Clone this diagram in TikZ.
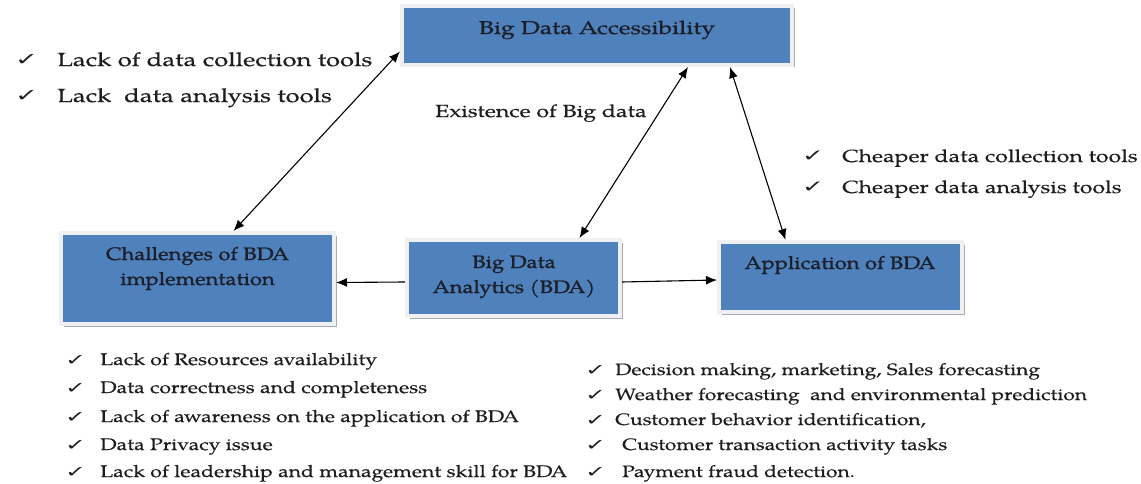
\documentclass[tikz,border=0pt]{standalone}
\usepackage{fontspec}
\setmainfont{TeX Gyre Pagella}
\newfontfamily\fTop{TeX Gyre Pagella}[FakeStretch=1.35,FakeBold=0.4]
\newfontfamily\fMid{TeX Gyre Pagella}[FakeStretch=1.32,FakeBold=0.4]
\newfontfamily\fBL{TeX Gyre Pagella}[FakeStretch=1.27,FakeBold=0.4]
\newfontfamily\fBR{TeX Gyre Pagella}[FakeStretch=1.27,FakeBold=0.4]
\newfontfamily\fBoxA{TeX Gyre Pagella}[FakeStretch=1.33,FakeBold=0.8]
\newfontfamily\fBox{TeX Gyre Pagella}[FakeStretch=1.22,FakeBold=1.2]
\newfontfamily\ckfont{DejaVu Sans}
\usetikzlibrary{arrows.meta,shadows}
\definecolor{boxblue}{HTML}{4F81BD}
\definecolor{framegray}{HTML}{EEF0F3}
\definecolor{shadowgray}{HTML}{A9ADB3}
\definecolor{txt}{HTML}{1E1E1E}
\definecolor{boxtxt}{HTML}{1C1F2A}
\newcommand{\ck}[1]{{\ckfont\fontsize{#1}{#1}\selectfont\scalebox{1.25}[0.8]{✓}}}
\begin{document}
\begin{tikzpicture}[x=1pt,y=-1pt,
  bigbox/.style={draw=framegray, line width=4pt, fill=boxblue, inner sep=0pt,
    drop shadow={shadow xshift=2.5pt, shadow yshift=-2.5pt, fill=shadowgray, opacity=1}},
  boxlabel/.style={anchor=base, align=center, text=boxtxt, inner sep=0pt},
  listline/.style={anchor=base west, text=txt, inner sep=0pt},
  conn/.style={line width=1.1pt, black, >={Latex[length=11pt,width=9pt]}},
]
\useasboundingbox (0,0) rectangle (1141,484);

% boxes
\node[bigbox, minimum width=390pt, minimum height=59pt] (acc) at (597,35.5) {};
\node[bigbox, minimum width=273pt, minimum height=91pt] (chal) at (197.5,278.5) {};
\node[bigbox, minimum width=213pt, minimum height=76pt] (bda) at (513.5,278) {};
\node[bigbox, minimum width=243pt, minimum height=70pt] (app) at (840.5,277) {};

% box labels (multi-line nodes: base = last line)
\node[boxlabel, font=\fBoxA\fontsize{18.5}{25}\selectfont] (accT) at (597,34) {Big Data Accessibility};
\node[boxlabel, font=\fBox\fontsize{18}{25}\selectfont] (chalT) at (197.5,285) {Challenges of BDA\\implementation};
\node[boxlabel, font=\fBox\fontsize{18}{25}\selectfont] (bdaT) at (514,293) {Big Data\\Analytics (BDA)};
\node[boxlabel, font=\fBox\fontsize{18}{25}\selectfont] (appT) at (840,269) {Application of BDA};

% connectors
\draw[conn, <->] ([yshift=-16pt]acc.west) -- ([xshift=36pt]chal.north);
\draw[conn, <->] ([xshift=91pt]acc.south) -- ([xshift=66pt]bda.north);
\draw[conn, <->] ([xshift=133pt]acc.south) -- ([xshift=-55pt]app.north);
\draw[conn, ->] ([yshift=-4pt]bda.west) -- ([yshift=-4pt]chal.east);
\draw[conn, ->] ([yshift=-4pt]bda.east) -- ([yshift=-3pt]app.west);

% top-left list
\node[listline, font=\fTop\fontsize{19}{19}\selectfont] (tl1) at (15,66) {\makebox[42pt][l]{\ck{22}}Lack of data collection tools};
\node[listline, font=\fTop\fontsize{19}{19}\selectfont] (tl2) at (15,102) {\makebox[42pt][l]{\ck{22}}Lack\ \ data analysis tools};

% existence label
\node[listline, font=\fMid\fontsize{17.5}{17.5}\selectfont] (ex) at (435,117) {Existence of Big data};

% right list
\node[listline, font=\fMid\fontsize{17.5}{17.5}\selectfont] (tr1) at (802,162) {\makebox[40pt][l]{\ck{21}}Cheaper data collection tools};
\node[listline, font=\fMid\fontsize{17.5}{17.5}\selectfont] (tr2) at (802,193) {\makebox[40pt][l]{\ck{21}}Cheaper data analysis tools};

% bottom-left list
\node[listline, font=\fBL\fontsize{16.7}{16.7}\selectfont] (bl1) at (65,365) {\makebox[35pt][l]{\ck{20}}Lack of Resources availability};
\node[listline, font=\fBL\fontsize{16.7}{16.7}\selectfont] (bl2) at (65,393) {\makebox[35pt][l]{\ck{20}}Data correctness and completeness};
\node[listline, font=\fBL\fontsize{16.7}{16.7}\selectfont] (bl3) at (65,422) {\makebox[35pt][l]{\ck{20}}Lack of awareness on the application of BDA};
\node[listline, font=\fBL\fontsize{16.7}{16.7}\selectfont] (bl4) at (65,450) {\makebox[35pt][l]{\ck{20}}Data Privacy issue};
\node[listline, font=\fBL\fontsize{16.7}{16.7}\selectfont] (bl5) at (65,477) {\makebox[35pt][l]{\ck{20}}Lack of leadership and management skill for BDA};

% bottom-right list
\node[listline, font=\fBR\fontsize{16.5}{16.5}\selectfont] (br1) at (585,375) {\makebox[30pt][l]{\ck{20}}Decision making, marketing, Sales forecasting};
\node[listline, font=\fBR\fontsize{16.5}{16.5}\selectfont] (br2) at (585,400) {\makebox[30pt][l]{\ck{20}}Weather forecasting\ \ and environmental prediction};
\node[listline, font=\fBR\fontsize{16.5}{16.5}\selectfont] (br3) at (585,425) {\makebox[30pt][l]{\ck{20}}Customer behavior identification,};
\node[listline, font=\fBR\fontsize{16.5}{16.5}\selectfont] (br4) at (585,450) {\makebox[37pt][l]{\ck{20}}Customer transaction activity tasks};
\node[listline, font=\fBR\fontsize{16.5}{16.5}\selectfont] (br5) at (585,477) {\makebox[37pt][l]{\ck{20}}Payment fraud detection.};
\end{tikzpicture}
\end{document}
